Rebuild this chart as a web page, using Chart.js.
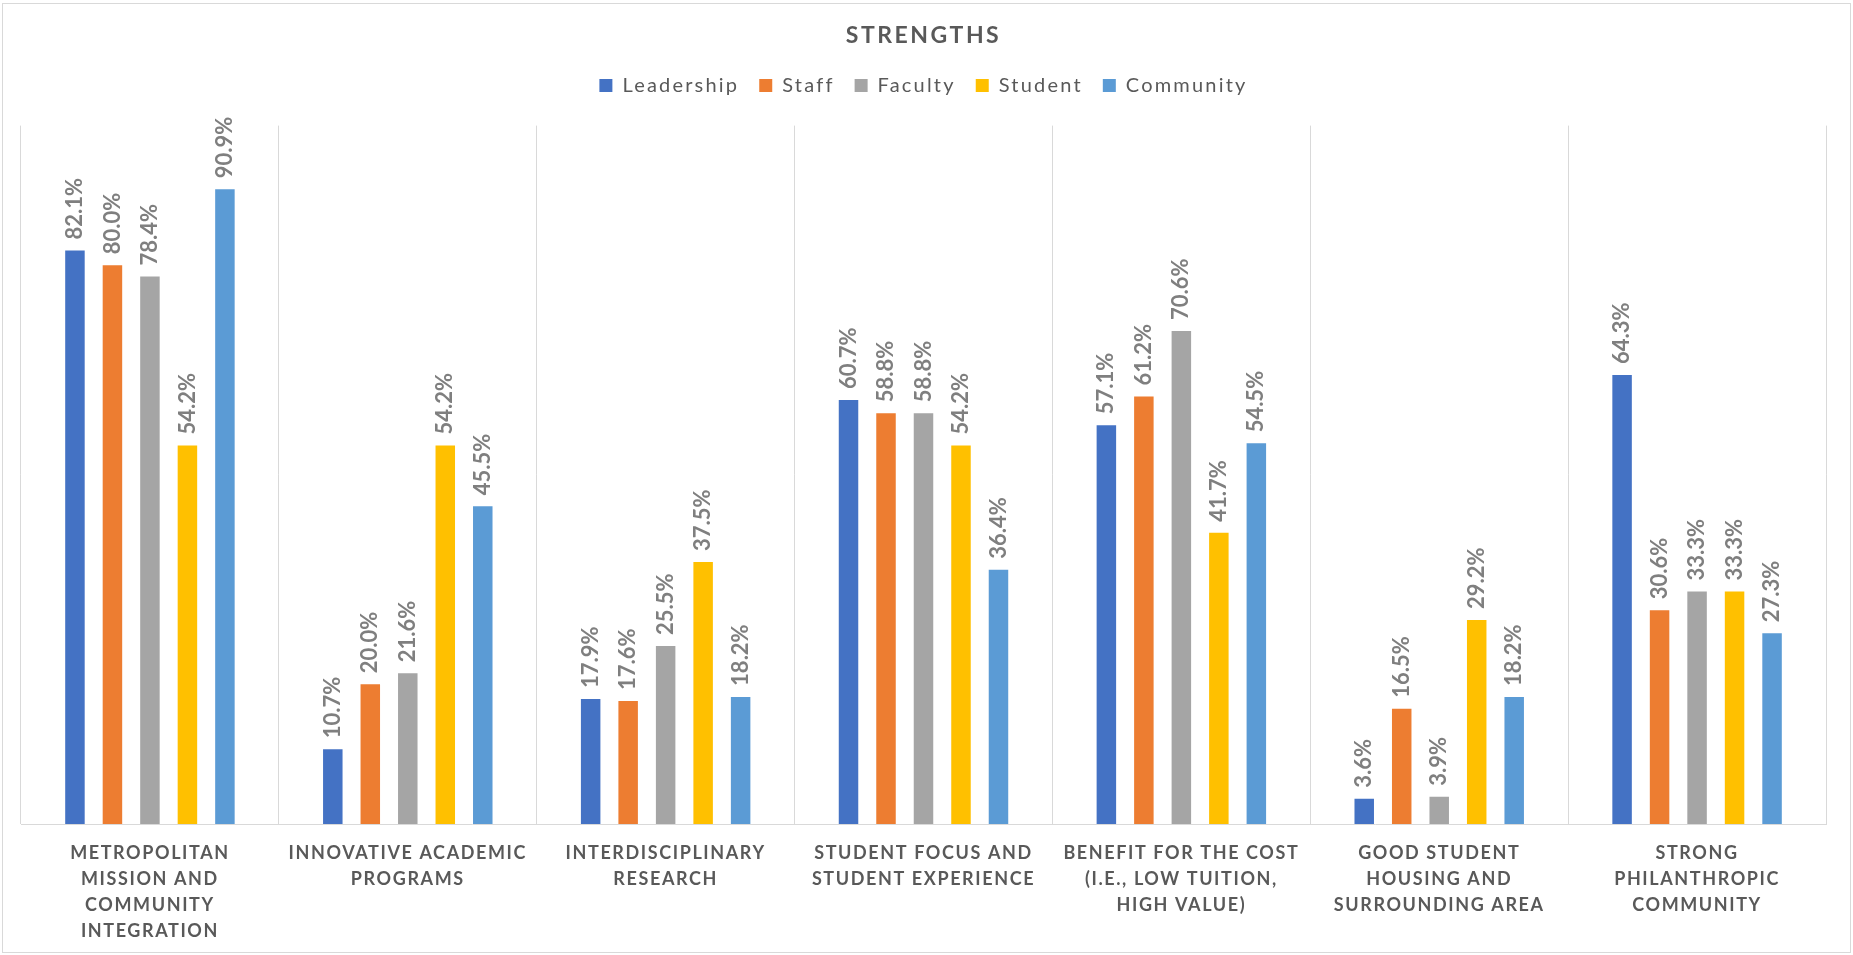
<!DOCTYPE html>
<html>
<head>
<meta charset="utf-8">
<script src="https://cdn.jsdelivr.net/npm/chart.js@4"></script>
<style>
  html, body { margin: 0; padding: 0; background: #fff; }
  #wrap { position: relative; width: 1853px; height: 955px; }
  #frame { position: absolute; left: 2px; top: 3px; width: 1847px; height: 948px; border: 1px solid #d9d9d9; pointer-events: none; }
</style>
</head>
<body>
<div id="wrap">
  <canvas id="strengthsChart" width="1853" height="955"></canvas>
  <div id="frame"></div>
</div>
<script>
// Strengths survey results (percent of respondents per group)
const categories = [
    ['METROPOLITAN', 'MISSION AND', 'COMMUNITY', 'INTEGRATION'],
    ['INNOVATIVE ACADEMIC', 'PROGRAMS'],
    ['INTERDISCIPLINARY', 'RESEARCH'],
    ['STUDENT FOCUS AND', 'STUDENT EXPERIENCE'],
    ['BENEFIT FOR THE COST', '(I.E., LOW TUITION,', 'HIGH VALUE)'],
    ['GOOD STUDENT', 'HOUSING AND', 'SURROUNDING AREA'],
    ['STRONG', 'PHILANTHROPIC', 'COMMUNITY']
];
const leadership = [82.1, 10.7, 17.9, 60.7, 57.1, 3.6, 64.3];
const staff      = [80.0, 20.0, 17.6, 58.8, 61.2, 16.5, 30.6];
const faculty    = [78.4, 21.6, 25.5, 58.8, 70.6, 3.9, 33.3];
const student    = [54.2, 54.2, 37.5, 54.2, 41.7, 29.2, 33.3];
const community  = [90.9, 45.5, 18.2, 36.4, 54.5, 18.2, 27.3];

const textGray = '#595959';
const fontFamily = 'Lato, "Open Sans", sans-serif';

// wrap a draw/fit method so it runs with canvas letter spacing
function withSpacing(obj, fn, spacing, extraHeight) {
    if (!obj || obj['_spaced_' + fn]) return;
    const orig = obj[fn].bind(obj);
    obj['_spaced_' + fn] = true;
    obj[fn] = function (...args) {
        const ctx = this.ctx;
        ctx.letterSpacing = spacing;
        const r = orig(...args);
        ctx.letterSpacing = '0px';
        if (extraHeight) this.height += extraHeight;
        return r;
    };
}

const spacingPlugin = {
    id: 'spacing',
    beforeUpdate(chart) {
        withSpacing(chart.legend, 'fit', '2.2px', 20);   // extra gap under legend
        withSpacing(chart.legend, 'draw', '2.2px');
        withSpacing(chart.titleBlock, 'draw', '2.5px');
    },
    afterUpdate(chart) {
        withSpacing(chart.scales.x, 'drawLabels', '1.6px');
    }
};

// rotated value labels above each bar
const valueLabels = {
    id: 'valueLabels',
    afterDatasetsDraw(chart) {
        const ctx = chart.ctx;
        ctx.save();
        ctx.font = 'bold 22px ' + fontFamily;
        ctx.fillStyle = '#7f7f7f';
        ctx.textAlign = 'left';
        ctx.textBaseline = 'middle';
        chart.data.datasets.forEach((ds, i) => {
            chart.getDatasetMeta(i).data.forEach((bar, j) => {
                ctx.save();
                ctx.translate(bar.x, bar.y - 11);
                ctx.rotate(-Math.PI / 2);
                ctx.fillText(ds.data[j].toFixed(1) + '%', 0, 0);
                ctx.restore();
            });
        });
        ctx.restore();
    }
};

const ctx = document.getElementById('strengthsChart').getContext('2d');
const strengthsChart = new Chart(ctx, {
    type: 'bar',
    data: {
        labels: categories,
        datasets: [
            { label: 'Leadership', data: leadership, backgroundColor: '#4472c4' },
            { label: 'Staff', data: staff, backgroundColor: '#ed7d31' },
            { label: 'Faculty', data: faculty, backgroundColor: '#a5a5a5' },
            { label: 'Student', data: student, backgroundColor: '#ffc000' },
            { label: 'Community', data: community, backgroundColor: '#5b9bd5' }
        ]
    },
    options: {
        responsive: false,
        animation: false,
        categoryPercentage: 0.727,
        barPercentage: 0.52,
        layout: {
            padding: { left: 21, right: 27, top: 0, bottom: 0 }
        },
        scales: {
            x: {
                grid: { color: '#d9d9d9', lineWidth: 1, offset: true, drawTicks: false },
                border: { color: '#d9d9d9' },
                ticks: {
                    color: textGray,
                    font: { family: fontFamily, size: 18, weight: 'bold', lineHeight: 1.45 },
                    padding: 16,
                    maxRotation: 0,
                    autoSkip: false
                },
                afterFit(scale) {
                    scale.height = 131;
                }
            },
            y: {
                display: false,
                min: 0,
                max: 100
            }
        },
        plugins: {
            title: {
                display: true,
                text: 'STRENGTHS',
                color: textGray,
                font: { family: fontFamily, size: 23, weight: 'bold' },
                padding: { top: 22, bottom: 6 }
            },
            legend: {
                display: true,
                labels: {
                    color: textGray,
                    font: { family: fontFamily, size: 20 },
                    boxWidth: 13,
                    boxHeight: 13,
                    padding: 20
                }
            },
            tooltip: { enabled: false }
        }
    },
    plugins: [spacingPlugin, valueLabels]
});
</script>
</body>
</html>
